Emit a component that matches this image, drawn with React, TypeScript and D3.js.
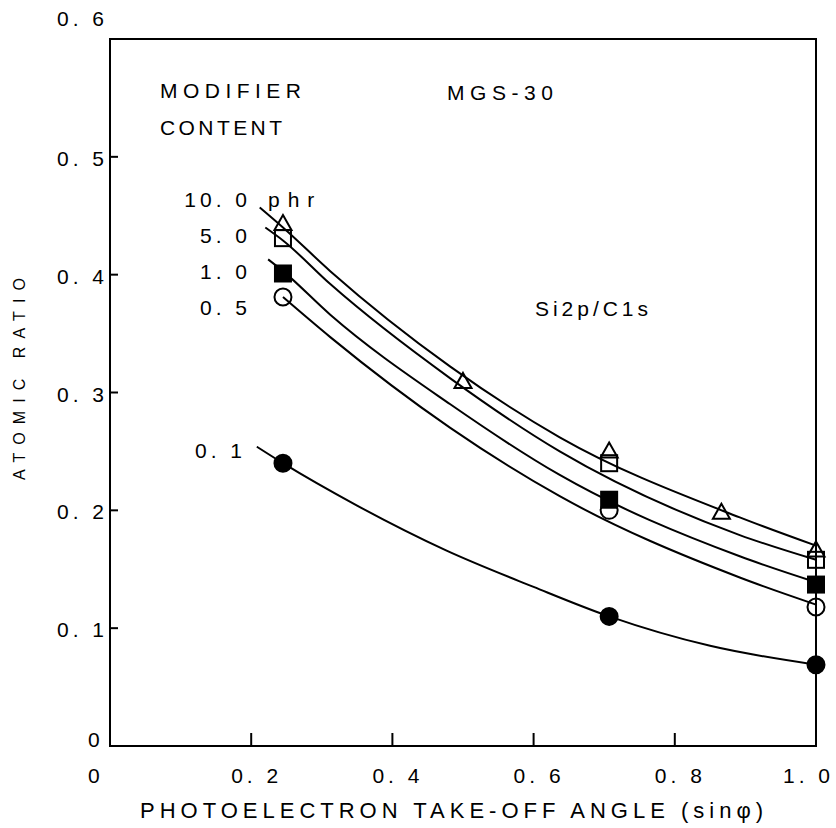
import React, { useEffect, useRef } from 'react';
import * as d3 from 'd3';

// marker positions (sin phi) and atomic ratio
const xMarks10 = [0.245, 0.5, 0.707, 0.866, 1.0];
const ratio10 = [0.443, 0.309, 0.25, 0.198, 0.166];
const xMarks = [0.245, 0.707, 1.0];
const ratio5 = [0.431, 0.24, 0.158];
const ratio1 = [0.401, 0.209, 0.137];
const ratio05 = [0.381, 0.2, 0.118];
const ratio01 = [0.24, 0.11, 0.069];

// fitted curves
const curve10 = [[0.212, 0.457], [0.245, 0.44], [0.312, 0.403], [0.482, 0.322], [0.637, 0.262], [0.892, 0.194], [1.0, 0.17]];
const curve5 = [[0.22, 0.44], [0.245, 0.429], [0.312, 0.392], [0.482, 0.312], [0.637, 0.25], [0.892, 0.179], [1.0, 0.158]];
const curve1 = [[0.224, 0.413], [0.245, 0.403], [0.312, 0.366], [0.482, 0.29], [0.637, 0.23], [0.892, 0.161], [1.0, 0.139]];
const curve05 = [[0.245, 0.381], [0.312, 0.347], [0.482, 0.27], [0.637, 0.212], [0.892, 0.143], [1.0, 0.12]];
const curve01 = [[0.208, 0.254], [0.245, 0.24], [0.35, 0.204], [0.476, 0.166], [0.6, 0.135], [0.707, 0.11], [0.85, 0.085], [1.0, 0.069]];

const xTicks = [0.2, 0.4, 0.6, 0.8, 1.0];
const xTickLabels = ['0. 2', '0. 4', '0. 6', '0. 8', '1. 0'];
const yTicks = [0, 0.1, 0.2, 0.3, 0.4, 0.5, 0.6];
const yTickLabels = ['0', '0. 1', '0. 2', '0. 3', '0. 4', '0. 5', '0. 6'];
const legendLabels = ['10. 0', '5. 0', '1. 0', '0. 5'];

const FONT = '"Liberation Sans", Arial, sans-serif';

function AtomicRatioChart() {
    const ref = useRef<SVGSVGElement>(null);
    const width = 836;
    const height = 828;

    useEffect(() => {
        const svg = d3.select(ref.current);
        svg.selectAll('*').remove();

        const x = d3.scaleLinear().domain([0, 1]).range([110, 816]);
        const y = d3.scaleLinear().domain([0, 0.6]).range([746, 39]);

        // frame
        svg.append('rect')
            .attr('x', x(0)).attr('y', y(0.6))
            .attr('width', x(1) - x(0)).attr('height', y(0) - y(0.6))
            .attr('fill', 'none').attr('stroke', 'black').attr('stroke-width', 2);

        // ticks
        xTicks.slice(0, 4).forEach(t => {
            svg.append('line')
                .attr('x1', x(t)).attr('x2', x(t))
                .attr('y1', y(0)).attr('y2', y(0) - 13)
                .attr('stroke', 'black').attr('stroke-width', 2);
        });
        yTicks.slice(1, 6).forEach(t => {
            svg.append('line')
                .attr('x1', x(0)).attr('x2', x(0) + 8)
                .attr('y1', y(t)).attr('y2', y(t))
                .attr('stroke', 'black').attr('stroke-width', 2);
        });

        const text = (s, tx, ty, opts: any = {}) => {
            const t = svg.append('text')
                .attr('x', tx).attr('y', ty)
                .attr('font-family', FONT)
                .attr('font-size', opts.size || 21)
                .attr('text-anchor', opts.anchor || 'start')
                .attr('letter-spacing', opts.ls || 0)
                .attr('fill', 'black')
                .text(s);
            if (opts.len) t.attr('textLength', opts.len).attr('lengthAdjust', 'spacing');
            return t;
        };

        // tick labels
        xTickLabels.forEach((s, i) => {
            const t = xTicks[i];
            text(s, x(t) - (t === 1 ? 33 : 20), 783, { ls: 4 });
        });
        text('0', x(0) - 22, 783);
        yTickLabels.forEach((s, i) => {
            const t = yTicks[i];
            if (t === 0) {
                text(s, x(0) - 22, y(t) + 1);
            } else {
                text(s, x(0) - 53, y(t) + 9 - (t === 0.6 ? 22 : 0), { ls: 4 });
            }
        });

        // axis titles
        text('PHOTOELECTRON TAKE-OFF ANGLE (sin\u03C6)', 140, 818, { size: 22, len: 623 });
        text('ATOMIC RATIO', 0, 0, { size: 16, anchor: 'middle', len: 202 })
            .attr('transform', 'translate(25,379) rotate(-90)');

        // annotations
        text('MODIFIER', 160, 98, { len: 141 });
        text('CONTENT', 160, 135, { len: 122 });
        text('MGS-30', 447, 100, { len: 106 });
        text('Si2p/C1s', 535, 316, { len: 113 });

        // curves
        const line = d3.line()
            .x(d => x(d[0]))
            .y(d => y(d[1]))
            .curve(d3.curveMonotoneX);
        [curve10, curve5, curve1, curve05, curve01].forEach(c => {
            svg.append('path')
                .attr('d', line(c))
                .attr('fill', 'none')
                .attr('stroke', 'black')
                .attr('stroke-width', 2);
        });

        // legend labels at curve starts
        const legendY = [207, 243, 279, 315];
        legendLabels.forEach((s, i) => text(s, 251, legendY[i], { anchor: 'end', ls: 4 }));
        text('phr', 268, 207, { ls: 8 });
        text('0. 1', 246, 458, { anchor: 'end', ls: 4 });

        // markers
        const circle = (cx, cy, filled) => svg.append('circle')
            .attr('cx', cx).attr('cy', cy).attr('r', 8.5)
            .attr('fill', filled ? 'black' : 'none')
            .attr('stroke', 'black').attr('stroke-width', 2);
        const square = (cx, cy, filled) => svg.append('rect')
            .attr('x', cx - 8).attr('y', cy - 8).attr('width', 16).attr('height', 16)
            .attr('fill', filled ? 'black' : 'none')
            .attr('stroke', 'black').attr('stroke-width', 2);
        const triangle = (cx, cy) => svg.append('path')
            .attr('d', `M${cx},${cy - 9} L${cx + 8.5},${cy + 6} L${cx - 8.5},${cy + 6} Z`)
            .attr('fill', 'none')
            .attr('stroke', 'black').attr('stroke-width', 2);

        xMarks.forEach((t, i) => circle(x(t), y(ratio05[i]), false));
        xMarks.forEach((t, i) => circle(x(t), y(ratio01[i]), true));
        xMarks.forEach((t, i) => square(x(t), y(ratio5[i]), false));
        xMarks.forEach((t, i) => square(x(t), y(ratio1[i]), true));
        xMarks10.forEach((t, i) => triangle(x(t), y(ratio10[i])));
    }, []);

    return (
        <svg ref={ref} width={width} height={height}
            style={{ position: 'absolute', left: 0, top: 0, background: 'white' }}></svg>
    );
}

export default function App() {
    return <AtomicRatioChart />;
}
